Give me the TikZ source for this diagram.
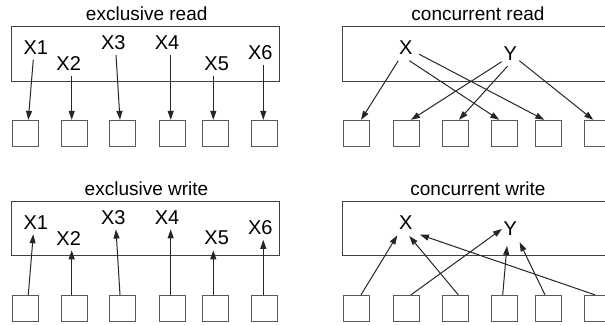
\documentclass[tikz,border=0pt]{standalone}
\usepackage{fontspec}
\setmainfont{Liberation Sans}
\usetikzlibrary{arrows.meta}
\begin{document}
\begin{tikzpicture}[x=1pt,y=-1pt,
  panel/.style={draw=black!75,line width=1.3pt},
  cell/.style={draw=black!65,line width=1.3pt,minimum size=26pt,inner sep=0pt},
  lbl/.style={inner sep=0pt,font=\fontsize{20}{24}\selectfont},
  ttl/.style={inner sep=0pt,anchor=base,font=\fontsize{19}{23}\selectfont},
  arr/.style={draw=black!85,line width=1pt,-{Triangle[length=9pt,width=6pt]}}]
\useasboundingbox (0,0) rectangle (605,324);
\clip (0,0) rectangle (605,324);
\draw[panel] (11.5,26.5) rectangle (279.5,81.5);
\draw[panel] (342.5,26.5) rectangle (611.5,81.5);
\draw[panel] (11.5,201.5) rectangle (279.5,255.5);
\draw[panel] (342.5,201.5) rectangle (611.5,255.5);
\node[ttl] (ert) at (146.7,20) {exclusive read};
\node[ttl] (crt) at (478,20) {concurrent read};
\node[ttl] (ewt) at (146.5,195.3) {exclusive write};
\node[ttl] (cwt) at (478,195.3) {concurrent write};
\foreach \i/\x/\y in {1/35.8/47.5,2/68.7/63.4,3/113.3/42.5,4/167/42.5,5/216.7/63.5,6/260.3/52.8} {
  \node[lbl] (erx\i) at (\x,\y) {X\i};
  \node[lbl] (ewx\i) at (\x,\y+174.7) {X\i};
}
\foreach \i/\x in {1/25.5,2/74.5,3/122.5,4/172.5,5/215.5,6/264.5} {
  \node[cell] (ers\i) at (\x,133.5) {};
  \node[cell] (ews\i) at (\x,308.5) {};
}
\foreach \i/\x in {1/356.5,2/406.5,3/455.5,4/504.5,5/548.5,6/597.5} {
  \node[cell] (crs\i) at (\x,133.5) {};
  \node[cell] (cws\i) at (\x,308.5) {};
}
\foreach \i/\a/\b in {1/-2.5/2.8,2/3/-2.8,3/2.7/-2.5,4/3.7/-1.8,5/-3.4/-2.2,6/3/-1.2} {
  \draw[arr] ([shift={(\a,5)}]erx\i.south) -- ([xshift=\b]ers\i.north);
  \draw[arr] ([xshift=\b]ews\i.north) -- ([shift={(\a,5)}]ewx\i.south);
}
\node[lbl] (crx) at (405.8,47.5) {X};
\node[lbl] (cry) at (510.3,53.7) {Y};
\draw[arr] ([shift={(-7.5,13.2)}]crx.center) -- ([xshift=4.5]crs1.north);
\draw[arr] ([shift={(3.5,13.2)}]crx.center) -- ([xshift=-5.2]crs4.north);
\draw[arr] ([shift={(13.5,6.8)}]crx.center) -- ([xshift=-4.2]crs5.north);
\draw[arr] ([shift={(-8.6,8)}]cry.center) -- ([xshift=4.5]crs2.north);
\draw[arr] ([shift={(-2.6,12.3)}]cry.center) -- ([xshift=3.5]crs3.north);
\draw[arr] ([shift={(9,7)}]cry.center) -- ([xshift=-4.2]crs6.north);
\node[lbl] (cwx) at (405.8,222.2) {X};
\node[lbl] (cwy) at (510.3,228.4) {Y};
\draw[arr] ([xshift=4.5]cws1.north) -- ([shift={(-8.5,13.2)}]cwx.center);
\draw[arr] ([xshift=2.8]cws3.north) -- ([shift={(3.5,13.9)}]cwx.center);
\draw[arr] ([xshift=-2.5]cws6.north) -- ([shift={(14.2,12.5)}]cwx.center);
\draw[arr] ([xshift=4.5]cws2.north) -- ([shift={(-8.3,0.5)}]cwy.center);
\draw[arr] ([xshift=-1.8]cws4.north) -- ([shift={(-3.3,17.5)}]cwy.center);
\draw[arr] ([xshift=-3.5]cws5.north) -- ([shift={(9.3,13.9)}]cwy.center);
\end{tikzpicture}
\end{document}
